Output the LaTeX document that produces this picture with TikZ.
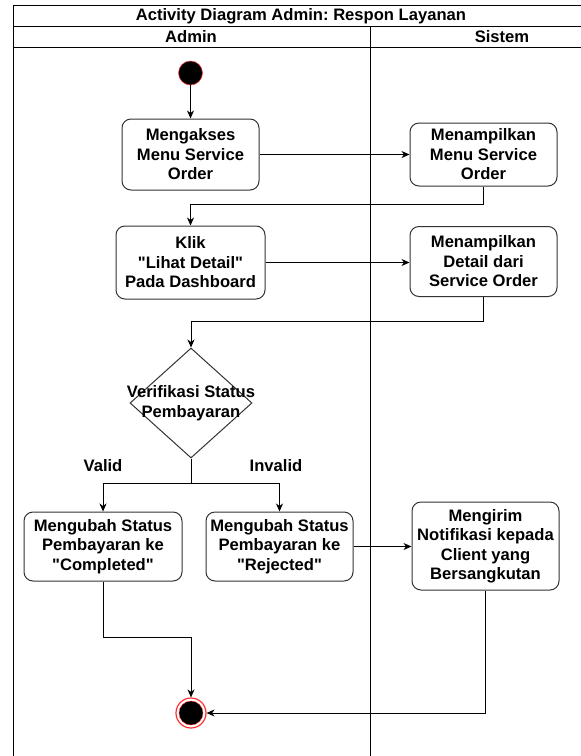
\documentclass[tikz,border=0pt]{standalone}
\usepackage{fontspec}
\setmainfont{Liberation Sans}[Ligatures=TeXOff]
\usetikzlibrary{arrows.meta,shapes.geometric}
\definecolor{edge}{HTML}{333333}
\definecolor{endred}{HTML}{FF3030}
\begin{document}
\frenchspacing
\begin{tikzpicture}[x=1pt,y=-1pt,
  txt/.style={font=\bfseries\fontsize{16.6}{19.5}\selectfont,align=center,inner sep=0pt},
  act/.style={txt,draw=edge,line width=1pt,rounded corners=9pt,fill=white},
  flow/.style={draw=black,line width=0.9pt,-{Stealth[length=8pt,width=7pt,inset=2.5pt]}},
  frame/.style={draw=black,line width=1pt}]
\useasboundingbox (0,0) rectangle (581,756);
\begin{scope}
\clip (0,0) rectangle (581,756);
% swimlane frame
\draw[frame] (13,800) -- (13,5.5) -- (640,5.5);
\draw[frame] (13,26.5) -- (640,26.5);
\draw[frame] (13,47) -- (640,47);
\draw[frame] (370,26.5) -- (370,800);
\end{scope}
\node[txt] (title) at (301,16) {Activity Diagram Admin: Respon Layanan};
\node[txt] (laneA) at (191,37) {Admin};
\node[txt] (laneS) at (502,37) {Sistem};

% start state
\node[circle,fill=black,draw=endred,line width=0.5pt,minimum size=24pt,inner sep=0pt] (start) at (190.5,73) {};

% actions
\node[act,minimum width=137pt,minimum height=71pt] (b1) at (190.5,154.5) {Mengakses\\Menu Service\\Order};
\node[act,minimum width=147pt,minimum height=63pt] (b2) at (483.5,154.5) {Menampilkan\\Menu Service\\Order};
\node[act,minimum width=149pt,minimum height=73pt] (b3) at (190.5,262.5) {Klik\\"Lihat Detail"\\Pada Dashboard};
\node[act,minimum width=147pt,minimum height=70pt] (b4) at (483.5,261.5) {Menampilkan\\Detail dari\\Service Order};

% decision
\node[diamond,draw=edge,line width=1pt,minimum width=122pt,minimum height=110pt,inner sep=0pt,
  label={[txt]center:Verifikasi Status\\Pembayaran}] (dec) at (191,403) {};

\node[act,minimum width=158pt,minimum height=69pt] (b5) at (103,546.5) {Mengubah Status\\Pembayaran ke\\"Completed"};
\node[act,minimum width=147pt,minimum height=69pt] (b6) at (279.5,546.5) {Mengubah Status\\Pembayaran ke\\"Rejected"};
\node[act,minimum width=147pt,minimum height=88pt] (b7) at (485.5,546) {Mengirim\\Notifikasi kepada\\Client yang\\Bersangkutan};

\node[txt] (lvalid) at (103,466) {Valid};
\node[txt] (linvalid) at (276,466) {Invalid};

% final state
\node[circle,draw=endred,line width=1.2pt,minimum size=30pt,inner sep=0pt] (end) at (191,713) {};
\fill[black,draw=endred,line width=0.4pt] (end.center) circle (12pt);

% connectors
\draw[flow] (start) -- (b1);
\draw[flow] (b1.east) -- (b1.east -| b2.west);
\draw[flow] (b2.south) -- ++(0,18) -| (b3.north);
\draw[flow] (b3.east) -- (b3.east -| b4.west);
\draw[flow] (b4.south) -- ++(0,24) -| (dec.north);
\path (dec.south) ++(0,25) coordinate (split);
\draw[line width=0.9pt,draw=black] (dec.south) -- (split);
\draw[flow] (split) -| (b5.north);
\draw[flow] (split) -| (b6.north);
\draw[flow] (b6.east) -- (b6.east -| b7.west);
\draw[flow] (b5.south) -- ++(0,55.5) -| (end.north);
\draw[flow] (b7.south) |- (end.east);
\end{tikzpicture}
\end{document}
